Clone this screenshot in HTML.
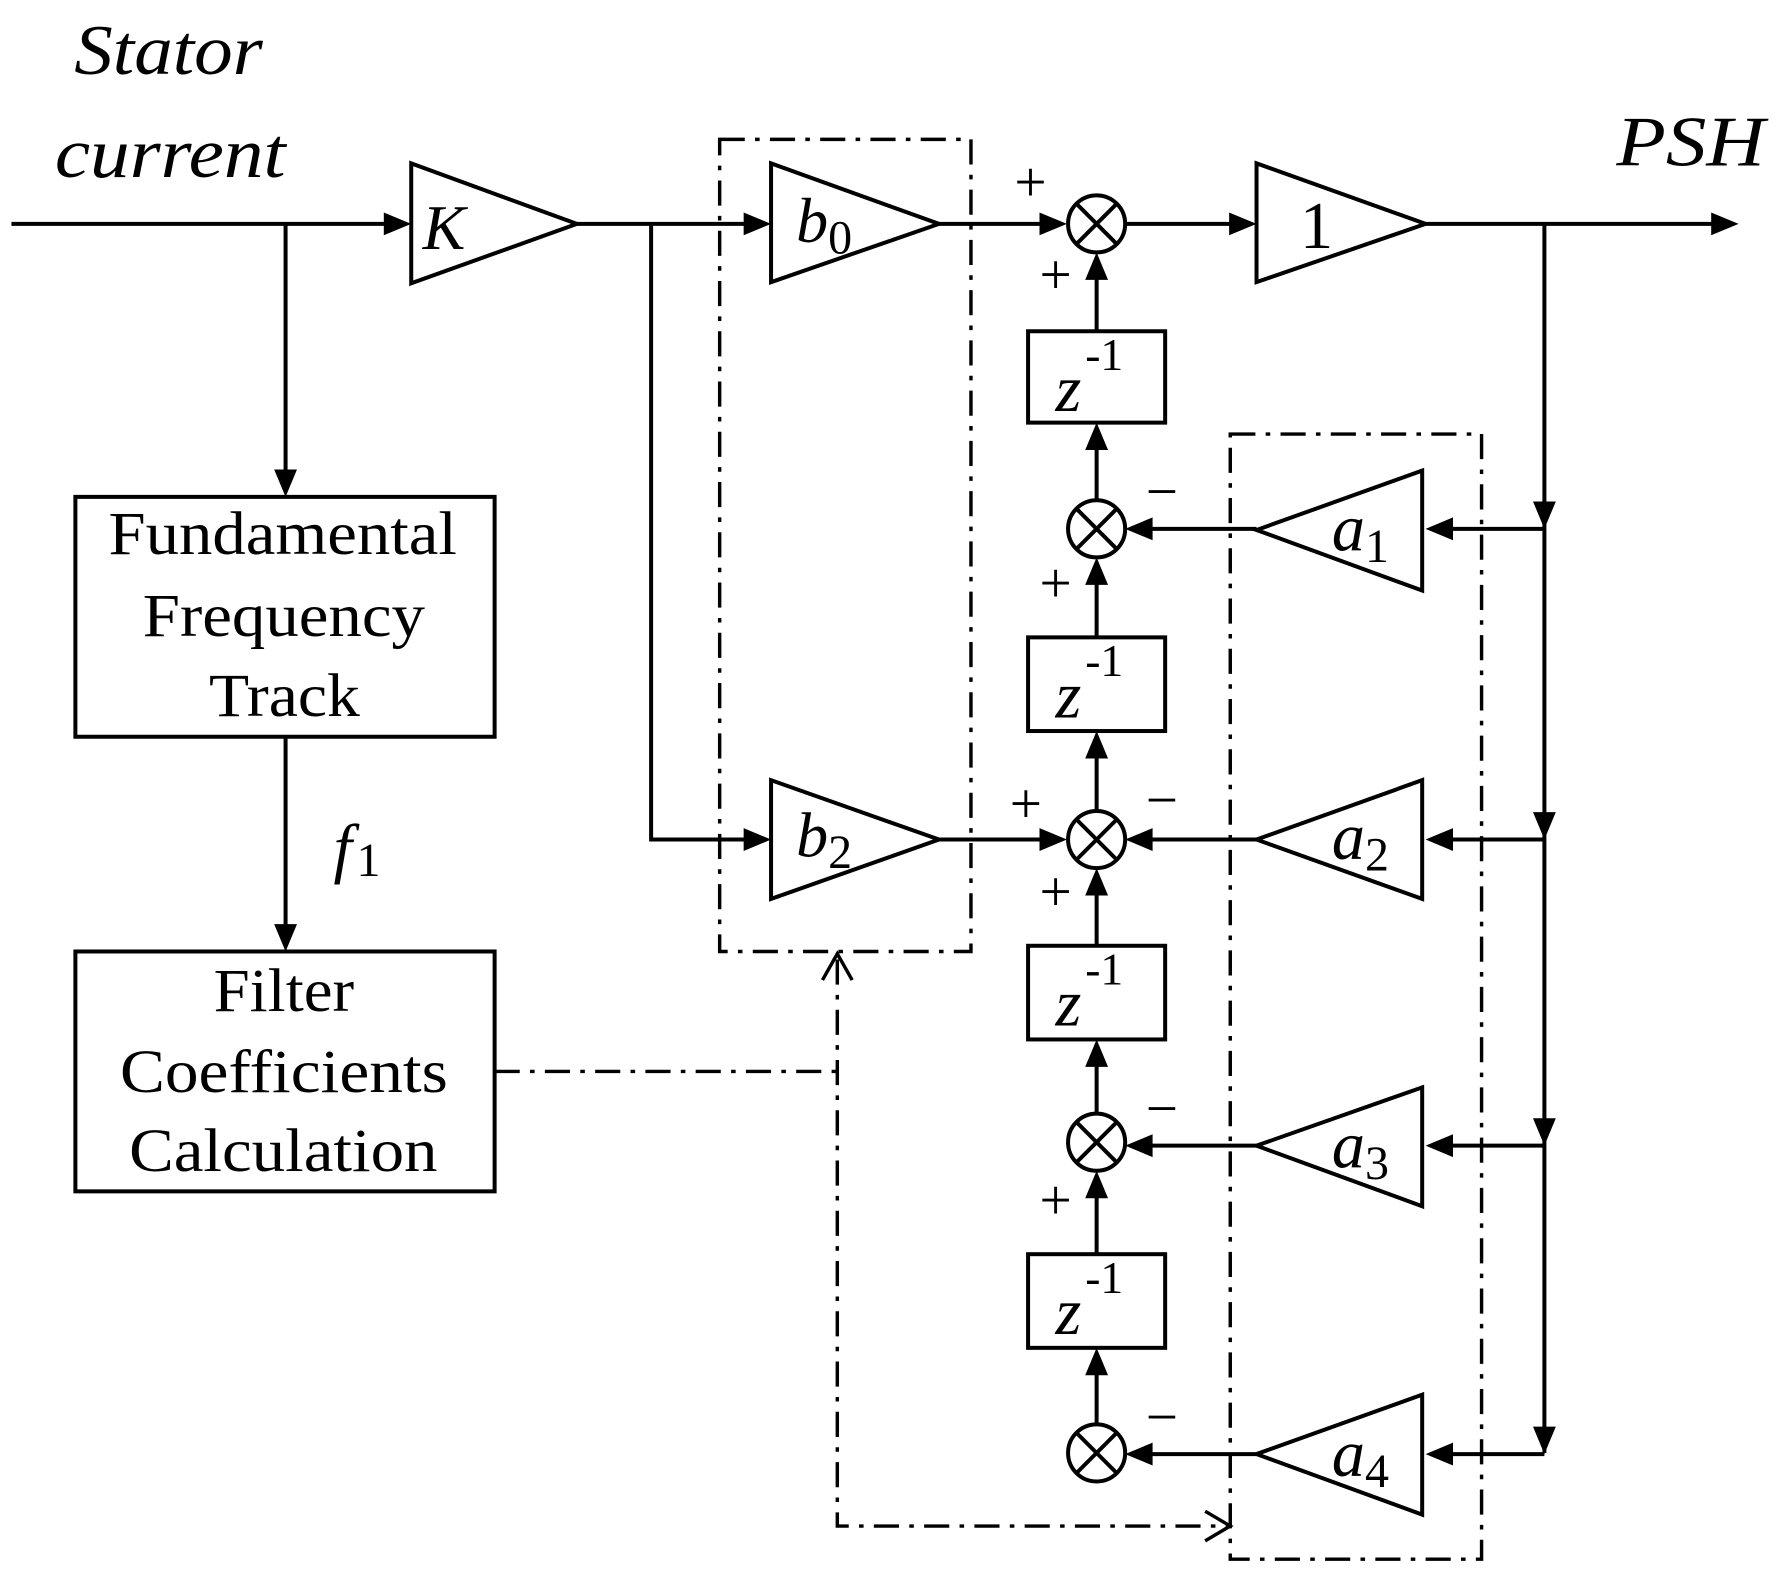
<!DOCTYPE html>
<html><head><style>html,body{margin:0;padding:0;background:#fff}svg{display:block}</style></head>
<body>
<svg width="1782" height="1590" viewBox="0 0 1560 1392" preserveAspectRatio="none" xmlns="http://www.w3.org/2000/svg">
<g fill="none" stroke="#000" stroke-width="3.5">
<line x1="10" y1="196" x2="345" y2="196"/>
<line x1="250" y1="196" x2="250" y2="420"/>
<polygon points="360,143 360,248 505,196"/>
<line x1="505" y1="196" x2="660" y2="196"/>
<polyline points="570,196 570,735 660,735"/>
<polygon points="675,143 675,247 822,196"/>
<polygon points="675,683 675,787 822,735"/>
<line x1="822" y1="196" x2="918" y2="196"/>
<line x1="822" y1="735" x2="918" y2="735"/>
<line x1="985" y1="196" x2="1085" y2="196"/>
<polygon points="1100,143 1100,247 1248,196"/>
<line x1="1248" y1="196" x2="1505" y2="196"/>
<line x1="1352" y1="196" x2="1352" y2="1272"/>
<polygon points="1245,412 1245,517 1100,464"/>
<polygon points="1245,683 1245,787 1100,735"/>
<polygon points="1245,952 1245,1056 1100,1003"/>
<polygon points="1245,1221 1245,1326 1100,1273"/>
<line x1="1352" y1="463" x2="1263" y2="463"/>
<line x1="1352" y1="735" x2="1263" y2="735"/>
<line x1="1352" y1="1003" x2="1263" y2="1003"/>
<line x1="1352" y1="1273" x2="1263" y2="1273"/>
<line x1="1100" y1="463" x2="1002" y2="463"/>
<line x1="1100" y1="735" x2="1002" y2="735"/>
<line x1="1100" y1="1003" x2="1002" y2="1003"/>
<line x1="1100" y1="1273" x2="1002" y2="1273"/>
<circle cx="960" cy="196" r="25"/><path d="M942,178 L978,214 M978,178 L942,214"/>
<circle cx="960" cy="463" r="25"/><path d="M942,445 L978,481 M978,445 L942,481"/>
<circle cx="960" cy="735" r="25"/><path d="M942,717 L978,753 M978,717 L942,753"/>
<circle cx="960" cy="1000" r="25"/><path d="M942,982 L978,1018 M978,982 L942,1018"/>
<circle cx="960" cy="1272" r="25"/><path d="M942,1254 L978,1290 M978,1254 L942,1290"/>
<rect x="900" y="290" width="120" height="80"/>
<rect x="900" y="558" width="120" height="82"/>
<rect x="900" y="828" width="120" height="82"/>
<rect x="900" y="1098" width="120" height="82"/>
<line x1="960" y1="438" x2="960" y2="385"/>
<line x1="960" y1="290" x2="960" y2="236"/>
<line x1="960" y1="710" x2="960" y2="655"/>
<line x1="960" y1="558" x2="960" y2="503"/>
<line x1="960" y1="975" x2="960" y2="925"/>
<line x1="960" y1="828" x2="960" y2="775"/>
<line x1="960" y1="1247" x2="960" y2="1195"/>
<line x1="960" y1="1098" x2="960" y2="1040"/>
<rect x="66" y="435" width="367" height="210"/>
<rect x="66" y="833" width="367" height="210"/>
<line x1="250" y1="645" x2="250" y2="818"/>
</g>
<g fill="none" stroke="#000" stroke-width="3" stroke-dasharray="22,9,4,9">
<rect x="630" y="122" width="220" height="711"/>
<rect x="1077" y="380" width="220" height="985"/>
<polyline points="433,938 733,938"/>
<polyline points="733,840 733,1336 1077,1336"/>
</g>
<g fill="none" stroke="#000" stroke-width="3">
<polyline points="720,858 733,835 746,858"/>
<polyline points="1055,1323 1077,1336 1055,1349"/>
</g>
<g fill="#000">
<polygon points="360,196 336,186 336,206"/>
<polygon points="250,435 240,411 260,411"/>
<polygon points="675,196 651,186 651,206"/>
<polygon points="675,735 651,725 651,745"/>
<polygon points="934,196 910,186 910,206"/>
<polygon points="934,735 910,725 910,745"/>
<polygon points="1100,196 1076,186 1076,206"/>
<polygon points="1522,196 1498,186 1498,206"/>
<polygon points="250,833 240,809 260,809"/>
<polygon points="1352,463 1342,439 1362,439"/>
<polygon points="1352,735 1342,711 1362,711"/>
<polygon points="1352,1003 1342,979 1362,979"/>
<polygon points="1352,1273 1342,1249 1362,1249"/>
<polygon points="1248,463 1272,453 1272,473"/>
<polygon points="1248,735 1272,725 1272,745"/>
<polygon points="1248,1003 1272,993 1272,1013"/>
<polygon points="1248,1273 1272,1263 1272,1283"/>
<polygon points="985,463 1009,453 1009,473"/>
<polygon points="985,735 1009,725 1009,745"/>
<polygon points="985,1003 1009,993 1009,1013"/>
<polygon points="985,1273 1009,1263 1009,1283"/>
<polygon points="960,221 950,245 970,245"/>
<polygon points="960,370 950,394 970,394"/>
<polygon points="960,488 950,512 970,512"/>
<polygon points="960,640 950,664 970,664"/>
<polygon points="960,760 950,784 970,784"/>
<polygon points="960,910 950,934 970,934"/>
<polygon points="960,1025 950,1049 970,1049"/>
<polygon points="960,1180 950,1204 970,1204"/>
</g>
<g font-family="Liberation Serif, serif" fill="#000">
<g font-style="italic" font-size="62">
<text x="65" y="65" textLength="165" lengthAdjust="spacingAndGlyphs">Stator</text>
<text x="48" y="155" textLength="202" lengthAdjust="spacingAndGlyphs">current</text>
<text x="1415" y="145" textLength="130" lengthAdjust="spacingAndGlyphs">PSH</text>
<text x="370" y="218" font-size="56">K</text>
<text x="697" y="212" font-size="56">b<tspan font-style="normal" font-size="42" dy="10">0</tspan></text>
<text x="697" y="750" font-size="56">b<tspan font-style="normal" font-size="42" dy="10">2</tspan></text>
<text x="1166" y="482" font-size="58">a<tspan font-style="normal" font-size="42" dy="10">1</tspan></text>
<text x="1166" y="752" font-size="58">a<tspan font-style="normal" font-size="42" dy="10">2</tspan></text>
<text x="1166" y="1022" font-size="58">a<tspan font-style="normal" font-size="42" dy="10">3</tspan></text>
<text x="1166" y="1292" font-size="58">a<tspan font-style="normal" font-size="42" dy="10">4</tspan></text>
<text x="292" y="762" font-size="58">f<tspan font-style="normal" font-size="42" dy="5" dx="4">1</tspan></text>
</g>
<text x="1138" y="217" font-size="58">1</text>
<g font-size="58" font-style="italic">
<text x="924" y="360">z</text><text x="950" y="324" font-style="normal" font-size="40">-1</text>
<text x="924" y="628">z</text><text x="950" y="592" font-style="normal" font-size="40">-1</text>
<text x="924" y="898">z</text><text x="950" y="862" font-style="normal" font-size="40">-1</text>
<text x="924" y="1168">z</text><text x="950" y="1132" font-style="normal" font-size="40">-1</text>
</g>
<g font-size="54">
<text x="95" y="485" textLength="305" lengthAdjust="spacingAndGlyphs">Fundamental</text>
<text x="125" y="557" textLength="247" lengthAdjust="spacingAndGlyphs">Frequency</text>
<text x="183" y="627" textLength="132" lengthAdjust="spacingAndGlyphs">Track</text>
<text x="187" y="885" textLength="123" lengthAdjust="spacingAndGlyphs">Filter</text>
<text x="105" y="956" textLength="287" lengthAdjust="spacingAndGlyphs">Coefficients</text>
<text x="113" y="1025" textLength="270" lengthAdjust="spacingAndGlyphs">Calculation</text>
</g>
<g font-size="50">
<text x="888" y="176">+</text>
<text x="910" y="257">+</text>
<text x="910" y="527">+</text>
<text x="884" y="720">+</text>
<text x="910" y="797">+</text>
<text x="910" y="1067">+</text>
<text x="1003" y="447">−</text>
<text x="1003" y="717">−</text>
<text x="1003" y="987">−</text>
<text x="1003" y="1257">−</text>
</g>
</g>
</svg>
</body></html>
